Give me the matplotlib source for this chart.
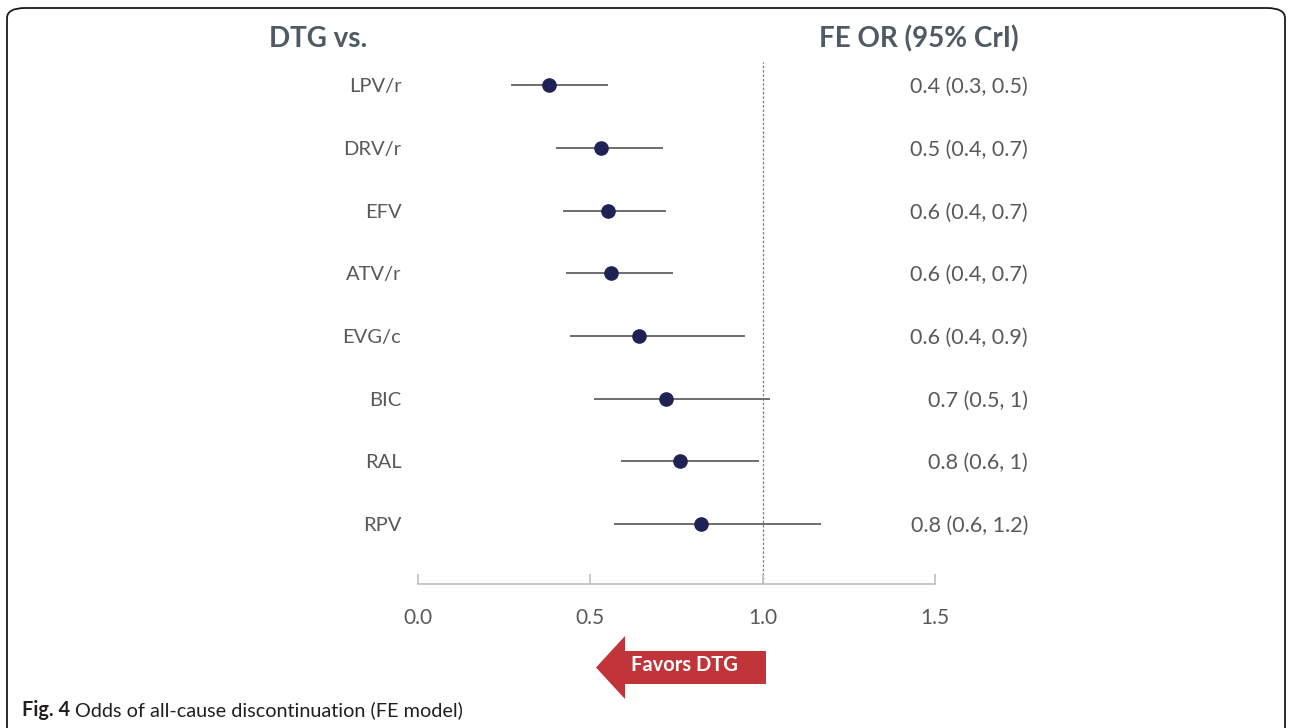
import matplotlib
matplotlib.use("Agg")
import matplotlib.pyplot as plt
from matplotlib.patches import FancyBboxPatch, FancyArrow
from matplotlib.transforms import blended_transform_factory

# ==========================================
# data
# ==========================================
drugs = ['LPV/r', 'DRV/r', 'EFV', 'ATV/r', 'EVG/c', 'BIC', 'RAL', 'RPV']
odds = [0.38, 0.53, 0.55, 0.56, 0.64, 0.72, 0.76, 0.82]
ci_low = [0.27, 0.40, 0.42, 0.43, 0.44, 0.51, 0.59, 0.57]
ci_high = [0.55, 0.71, 0.72, 0.74, 0.95, 1.02, 0.99, 1.17]
or_text = ['0.4 (0.3, 0.5)', '0.5 (0.4, 0.7)', '0.6 (0.4, 0.7)', '0.6 (0.4, 0.7)',
           '0.6 (0.4, 0.9)', '0.7 (0.5, 1)', '0.8 (0.6, 1)', '0.8 (0.6, 1.2)']
x_ticks = [0.0, 0.5, 1.0, 1.5]

FONT = ['Lato', 'DejaVu Sans']
TXT_GREY = '#595959'
HEAD_COL = '#4F5A64'
DOT_COL = '#1F2255'
ARROW_RED = '#C0343A'

W, H = 1292, 728
fig = plt.figure(figsize=(W / 100, H / 100), dpi=100, facecolor='white')
plt.rcParams['font.family'] = FONT

# rounded frame round the whole figure (open at the bottom)
frame = FancyBboxPatch((7 / W, -0.05), (W - 14) / W, (H - 8) / H + 0.05,
                       boxstyle='round,pad=0,rounding_size=0.014',
                       transform=fig.transFigure, fill=False,
                       edgecolor='#1a1a1a', linewidth=1.3, clip_on=False)
fig.patches.append(frame)

# axes placed in pixel terms
ax = fig.add_axes([418 / W, 1 - 584 / H, 517 / W, (584 - 62) / H])
n = len(drugs)
ys = [n - i for i in range(n)]

ax.hlines(ys, ci_low, ci_high, color='#6E6E6E', lw=1.4, zorder=2)
ax.plot(odds, ys, 'o', color=DOT_COL, ms=9.5, zorder=3)
ax.axvline(1.0, color='#7F7F7F', lw=0.9, ls=(0, (2, 1.5)), zorder=1)

ax.set_xlim(0, 1.5)
ax.set_ylim(0.043, n + 0.37)
ax.set_xticks(x_ticks)
ax.set_xticklabels([f'{t:.1f}' for t in x_ticks], fontsize=15, color=TXT_GREY)
ax.tick_params(axis='x', direction='in', length=7, width=1.2, color='#BFBFBF', pad=17)
ax.set_yticks(ys)
ax.set_yticklabels(drugs, fontsize=14.5, color=TXT_GREY)
ax.tick_params(axis='y', length=0, pad=12)
for s in ['top', 'right', 'left']:
    ax.spines[s].set_visible(False)
ax.spines['bottom'].set_color('#BFBFBF')
ax.spines['bottom'].set_linewidth(1.2)
ax.set_facecolor('none')

# OR (95% CrI) column
tr = blended_transform_factory(ax.transAxes, ax.transData)
for y, t in zip(ys, or_text):
    ax.text((1028 - 418) / 517, y, t, transform=tr, ha='right', va='center_baseline',
            fontsize=15.5, color=TXT_GREY)

# headers
fig.text(318 / W, 1 - 39 / H, 'DTG vs.', ha='center', va='center',
         fontsize=20, fontweight='bold', color=HEAD_COL)
fig.text(919 / W, 1 - 39 / H, 'FE OR (95% CrI)', ha='center', va='center',
         fontsize=20, fontweight='bold', color=HEAD_COL)

# "Favors DTG" arrow
arr = FancyArrow(766 / W, 1 - 667.5 / H, -(766 - 596) / W, 0,
                 width=33 / H, head_width=63 / H, head_length=29 / W,
                 length_includes_head=True, transform=fig.transFigure,
                 color=ARROW_RED, lw=0)
fig.patches.append(arr)
fig.text(684 / W, 1 - 665 / H, 'Favors DTG', ha='center', va='center',
         fontsize=14.5, fontweight='bold', color='white')

# caption: bold "Fig. 4" followed by the plain text
cap_y = 1 - 710 / H
t1 = fig.text(22 / W, cap_y, 'Fig. 4', ha='left', va='center',
              fontsize=14.3, fontweight='bold', color='#231F20')
fig.canvas.draw()
bb = t1.get_window_extent(renderer=fig.canvas.get_renderer())
fig.text((bb.x1 + 5) / W, cap_y, 'Odds of all-cause discontinuation (FE model)',
         ha='left', va='center', fontsize=14.3, color='#231F20')

fig.savefig('out.png', dpi=100, facecolor='white')
